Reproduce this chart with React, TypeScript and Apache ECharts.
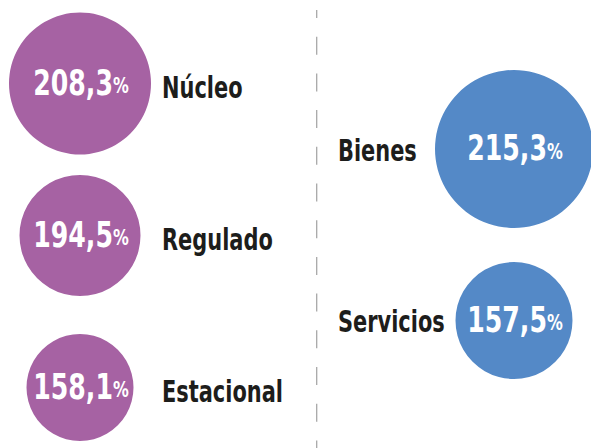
import React, { useEffect, useRef } from "react";
import * as echarts from "echarts";

const leftCategories = ["Núcleo", "Regulado", "Estacional"];
const leftValues = [208.3, 194.5, 158.1];
const rightCategories = ["Bienes", "Servicios"];
const rightValues = [215.3, 157.5];

// bubble diameters in px (styling)
const leftDiameters = [142, 121, 107];
const rightDiameters = [158, 117];

const FONT = "'DejaVu Sans Condensed', 'DejaVu Sans', sans-serif";
const PURPLE = "#a662a3";
const BLUE = "#5489c7";
const TEXT = "#1d1d1b";

const fmt = (v: number) => v.toFixed(1).replace(".", ",");

const makeRender =
  (cats: string[], diameters: number[], color: string, nameDx: number, nameDy: number) =>
  (params: any, api: any) => {
    const i = params.dataIndex;
    const pt = api.coord([api.value(0), api.value(1)]);
    const r = diameters[i] / 2;
    const v = api.value(2);
    return {
      type: "group",
      children: [
        {
          type: "circle",
          shape: { cx: pt[0], cy: pt[1], r },
          style: { fill: color },
        },
        {
          type: "text",
          x: pt[0] + 1,
          y: pt[1] - 1,
          scaleX: 0.8,
          style: {
            text: `{v|${fmt(v)}}{p|%}`,
            align: "center",
            verticalAlign: "middle",
            rich: {
              v: { fontFamily: FONT, fontWeight: "bold", fontSize: 35, fill: "#ffffff" },
              p: { fontFamily: FONT, fontWeight: "bold", fontSize: 22, fill: "#ffffff", padding: [7, 0, 0, 0] },
            },
          },
        },
        {
          type: "text",
          x: pt[0] + nameDx,
          y: pt[1] + nameDy,
          scaleX: 0.75,
          style: {
            text: cats[i],
            align: "left",
            verticalAlign: "middle",
            fontFamily: FONT,
            fontWeight: "bold",
            fontSize: 31,
            fill: TEXT,
          },
        },
      ],
    };
  };

export default function App() {
  const ref = useRef<HTMLDivElement>(null);
  useEffect(() => {
    if (!ref.current) return;
    const chart = echarts.init(ref.current, null, { renderer: "svg" });
    const hiddenCat = (gridIndex: number, data: string[]) => ({
      gridIndex,
      type: "category",
      data,
      inverse: true,
      boundaryGap: false,
      show: false,
    });
    chart.setOption({
      animation: false,
      backgroundColor: "#ffffff",
      grid: [
        { left: 0, width: 160, top: 83.5, height: 304, outerBoundsMode: "none" },
        { left: 435, width: 158, top: 149, height: 171.5, outerBoundsMode: "none" },
      ],
      xAxis: [
        { gridIndex: 0, type: "category", data: [""], show: false },
        { gridIndex: 1, type: "category", data: [""], show: false },
      ],
      yAxis: [hiddenCat(0, leftCategories), hiddenCat(1, rightCategories)],
      series: [
        {
          type: "custom",
          xAxisIndex: 0,
          yAxisIndex: 0,
          clip: false,
          renderItem: makeRender(leftCategories, leftDiameters, PURPLE, 82, 4),
          data: leftValues.map((v, i) => [0, i, v]),
        },
        {
          type: "custom",
          xAxisIndex: 1,
          yAxisIndex: 1,
          clip: false,
          renderItem: makeRender(rightCategories, rightDiameters, BLUE, -176, 1),
          data: rightValues.map((v, i) => [0, i, v]),
        },
      ],
      graphic: [
        {
          type: "line",
          silent: true,
          z: -1,
          shape: { x1: 316.7, y1: 10, x2: 316.7, y2: 448 },
          style: { stroke: "#a8a8a8", lineWidth: 1.3, lineDash: [18, 18.7], lineDashOffset: 10 },
        },
      ],
    });
    return () => chart.dispose();
  }, []);
  return (
    <div
      ref={ref}
      style={{ position: "absolute", left: 0, top: 0, width: 591, height: 448 }}
    />
  );
}
